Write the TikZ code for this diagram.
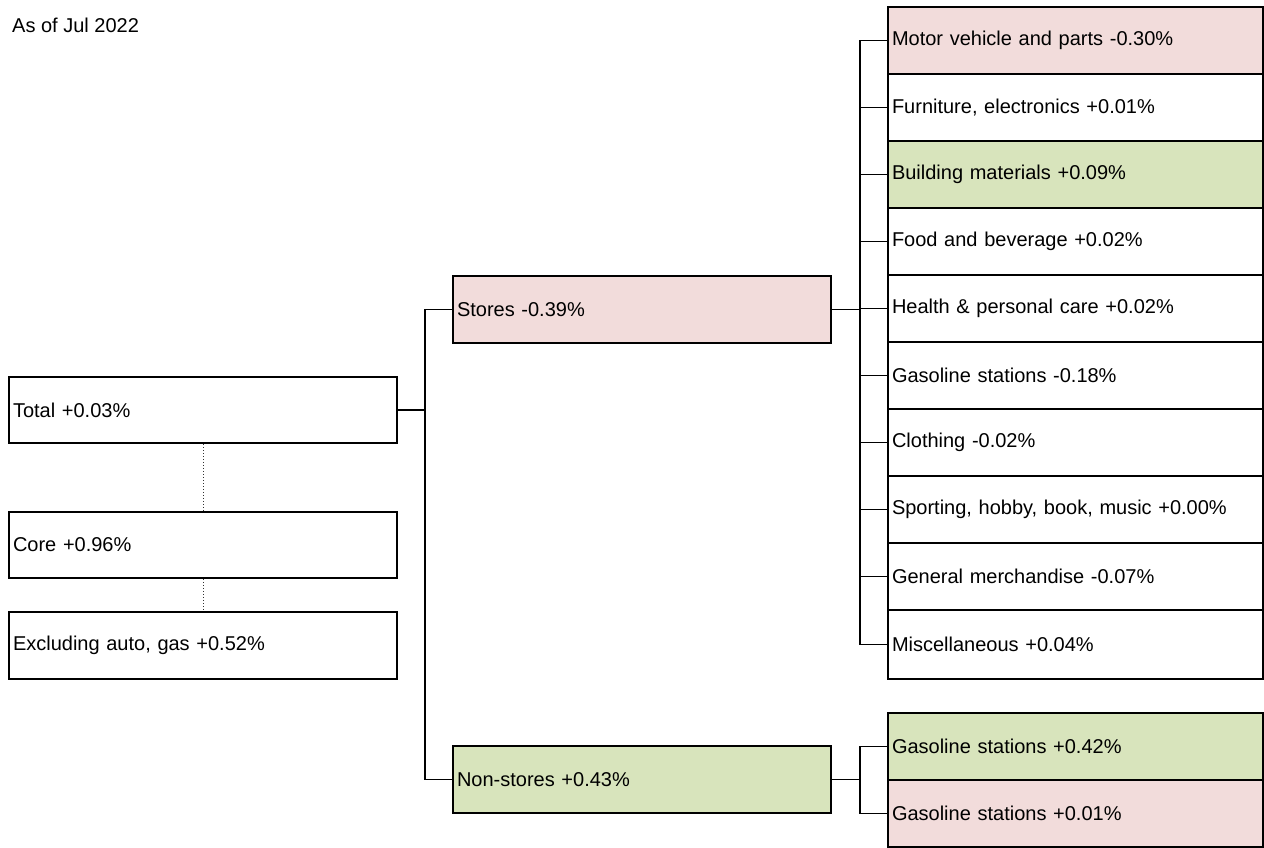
\documentclass[tikz,border=0pt]{standalone}
\usepackage{fontspec}
\setmainfont{Liberation Sans}
\definecolor{negfill}{HTML}{F2DCDB}
\definecolor{posfill}{HTML}{D8E4BC}
\begin{document}
\begin{tikzpicture}[x=1pt,y=-1pt,
  font=\fontsize{20}{24}\selectfont,
  box/.style={draw=black, line width=1.8pt, fill=white, minimum height=67pt,
    inner xsep=4pt, inner ysep=0pt, align=left, anchor=center},
  leftbox/.style={box, text width=380pt},
  midbox/.style={box, text width=370pt},
  rightbox/.style={box, text width=367pt},
  negbox/.style={fill=negfill},
  posbox/.style={fill=posfill},
  conn/.style={line width=1.8pt},
  dotline/.style={line width=1pt, dotted, black!80}
]
\useasboundingbox (0,0) rectangle (1264,848);

\node[anchor=west, inner sep=0pt] (asof) at (12,25) {As of Jul 2022};

% left column
\node[leftbox, minimum height=66pt] (total) at (203,410) {Total +0.03\%};
\node[leftbox, minimum height=66pt] (core) at (203,545) {Core +0.96\%};
\node[leftbox, minimum height=67pt] (excl) at (203,645.5) {Excluding auto, gas +0.52\%};
\draw[dotline] (total.south) -- (core.north);
\draw[dotline] (core.south) -- (excl.north);

% middle column
\node[midbox, negbox] (stores) at (642,309.5) {Stores -0.39\%};
\node[midbox, posbox] (nonstores) at (642,779.5) {Non-stores +0.43\%};

% right column (stores)
\node[rightbox, negbox] (mv) at (1075.5,40.5) {Motor vehicle and parts -0.30\%};
\node[rightbox] (furn) at (1075.5,107.5) {Furniture, electronics +0.01\%};
\node[rightbox, posbox] (build) at (1075.5,174.5) {Building materials +0.09\%};
\node[rightbox] (food) at (1075.5,241.5) {Food and beverage +0.02\%};
\node[rightbox] (health) at (1075.5,308.5) {Health \& personal care +0.02\%};
\node[rightbox] (gas) at (1075.5,375.5) {Gasoline stations -0.18\%};
\node[rightbox] (cloth) at (1075.5,442.5) {Clothing -0.02\%};
\node[rightbox] (sport) at (1075.5,509.5) {Sporting, hobby, book, music +0.00\%};
\node[rightbox] (gen) at (1075.5,576.5) {General merchandise -0.07\%};
\node[rightbox, minimum height=69pt] (misc) at (1075.5,644.5) {Miscellaneous +0.04\%};

% right column (non-stores)
\node[rightbox, posbox] (ngas1) at (1075.5,746.5) {Gasoline stations +0.42\%};
\node[rightbox, negbox] (ngas2) at (1075.5,813.5) {Gasoline stations +0.01\%};

% connectors
\coordinate (tj) at (425,410);
\draw[conn] (total.east) -- (tj);
\draw[conn] (tj) |- (stores.west);
\draw[conn] (tj) |- (nonstores.west);

\coordinate (sj) at (860,309.5);
\draw[conn] (stores.east) -- (sj);
\foreach \n in {mv,furn,build,food,health,gas,cloth,sport,gen,misc}
  \draw[conn] (sj) |- (\n.west);

\coordinate (nj) at (860,779.5);
\draw[conn] (nonstores.east) -- (nj);
\draw[conn] (nj) |- (ngas1.west);
\draw[conn] (nj) |- (ngas2.west);
\end{tikzpicture}
\end{document}
